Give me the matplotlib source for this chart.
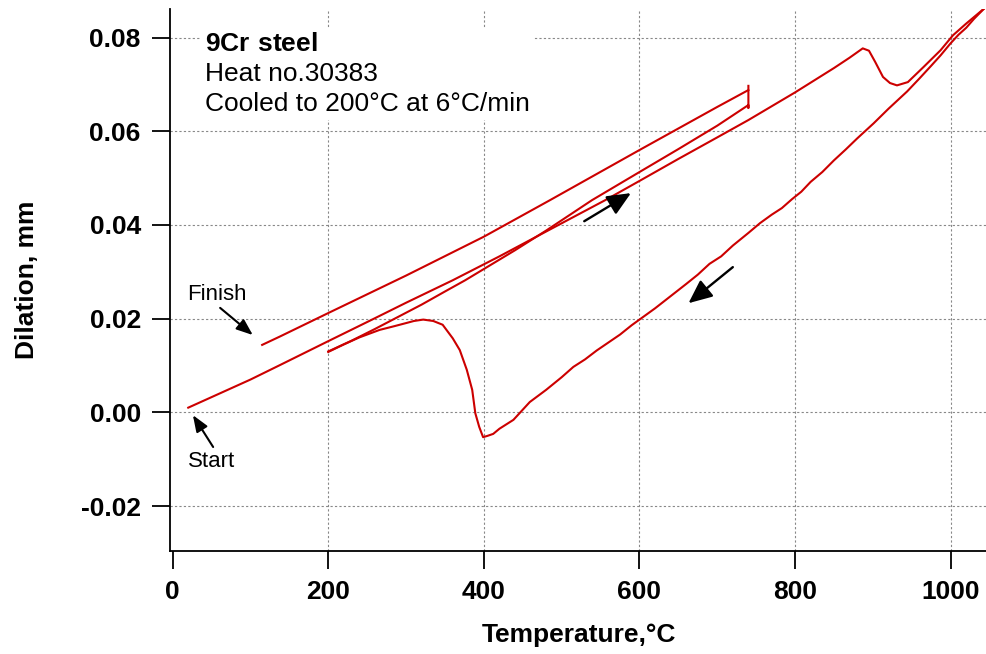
import matplotlib
matplotlib.use('Agg')
import matplotlib.pyplot as plt

plt.rcParams['font.family'] = ['Liberation Sans', 'DejaVu Sans']
plt.rcParams['mathtext.fontset'] = 'custom'
plt.rcParams['mathtext.rm'] = 'Liberation Sans'
plt.rcParams['mathtext.bf'] = 'Liberation Sans:bold'

# first heating: start -> 1045 C (dip at Ac1/Ac3)
heat_T = [20, 60, 100, 138, 200, 260, 300, 360, 420, 480, 556, 600, 650, 700, 740,
          800, 850, 870, 887, 895, 903, 913, 922, 931, 945, 965, 987, 1003, 1020, 1043]
heat_D = [0.0010, 0.0040, 0.0070, 0.0101, 0.0152, 0.0201, 0.0234, 0.0282, 0.0333, 0.0386,
          0.0453, 0.0494, 0.0541, 0.0587, 0.0624, 0.0683, 0.0735, 0.0757, 0.0777, 0.0772,
          0.0748, 0.0716, 0.0703, 0.0698, 0.0705, 0.0737, 0.0773, 0.0805, 0.0830, 0.0862]

# cooling from 1045 C to 200 C at 6 C/min
cool_T = [1043, 1030, 1020, 1010, 1000, 987, 975, 960, 944, 920, 901, 880, 865, 850, 835,
          820, 808, 796, 783, 770, 755, 740, 720, 705, 690, 675, 660, 640, 620, 605,
          590, 575, 560, 545, 530, 515, 500, 480, 459, 438, 420, 412, 405, 399, 394,
          389, 385, 378, 369, 360, 347, 335, 322, 310, 301, 285, 266, 240, 220, 200]
cool_D = [0.0862, 0.0840, 0.0821, 0.0806, 0.0788, 0.0762, 0.0740, 0.0713, 0.0685, 0.0648,
          0.0617, 0.0585, 0.0561, 0.0538, 0.0513, 0.0492, 0.0471, 0.0455, 0.0436, 0.0422,
          0.0404, 0.0383, 0.0356, 0.0333, 0.0317, 0.0294, 0.0274, 0.0248, 0.0222, 0.0204,
          0.0186, 0.0166, 0.0149, 0.0132, 0.0113, 0.0097, 0.0075, 0.0048, 0.0022, -0.0016,
          -0.0035, -0.0046, -0.0050, -0.0053, -0.0031, -0.0002, 0.0048, 0.0091, 0.0133,
          0.0158, 0.0187, 0.0195, 0.0198, 0.0195, 0.0191, 0.0184, 0.0176, 0.0160, 0.0145, 0.0129]

# reheating 200 -> 740 C, hold at 740 C
reheat_T = [200, 230, 260, 290, 320, 350, 376, 410, 440, 480, 539, 600, 650, 700, 740, 740, 740]
reheat_D = [0.0130, 0.0153, 0.0178, 0.0204, 0.0230, 0.0258, 0.0282, 0.0316, 0.0346, 0.0388,
            0.0453, 0.0513, 0.0562, 0.0612, 0.0656, 0.0650, 0.0697]

# final cooling 740 C -> finish
cool2_T = [740, 700, 600, 485, 400, 300, 200, 138, 115]
cool2_D = [0.0688, 0.0652, 0.0560, 0.0453, 0.0375, 0.0292, 0.0212, 0.0162, 0.0144]

red = '#cc0000'

fig = plt.figure(figsize=(9.87, 6.54), dpi=100)
ax = fig.add_axes([0.1722, 0.1575, 0.8278, 0.8287])

for T, D in [(heat_T, heat_D), (cool_T, cool_D), (reheat_T, reheat_D), (cool2_T, cool2_D)]:
    ax.plot(T, D, color=red, lw=1.5, zorder=3)

ax.set_xlim(-3.5, 1046.7)
ax.set_ylim(-0.0296, 0.0861)
ax.set_xticks([0, 200, 400, 600, 800, 1000])
ax.set_yticks([-0.02, 0.00, 0.02, 0.04, 0.06, 0.08])
ax.set_yticklabels(['-0.02', '0.00', '0.02', '0.04', '0.06', '0.08'])

for s in ['top', 'right']:
    ax.spines[s].set_visible(False)
for s in ['left', 'bottom']:
    ax.spines[s].set_linewidth(1.3)

ax.tick_params(direction='out', length=13, width=1.3, pad=8, labelsize=19)
for lab in ax.get_xticklabels() + ax.get_yticklabels():
    lab.set_fontweight('bold')

ax.grid(True, color='#888888', linestyle=(0, (2, 2)), lw=0.8, zorder=0)
ax.get_xgridlines()[0].set_visible(False)

ax.set_xlabel('Temperature,°C', fontsize=19, fontweight='bold')
ax.set_ylabel('Dilation, mm', fontsize=19, fontweight='bold')
ax.xaxis.set_label_coords(0.5, -0.133)
ax.yaxis.set_label_coords(-0.16, 0.5)

# info block
ax.text(0.0428, 0.957, r'$\mathbf{9Cr\ steel}$' + '\nHeat no.30383\nCooled to 200°C at 6°C/min',
        transform=ax.transAxes, fontsize=19, va='top', ha='left', linespacing=1.31, zorder=4,
        bbox=dict(facecolor='white', edgecolor='none', pad=3))

# labels and arrows
ax.text(57, 0.0252, 'Finish', fontsize=16, ha='center', va='center')
ax.text(50.5, -0.0104, 'Start', fontsize=16, ha='center', va='center')

small = dict(arrowstyle='-|>,head_length=0.9,head_width=0.35', color='black', lw=1.5,
             mutation_scale=11, shrinkA=0, shrinkB=0)
big = dict(arrowstyle='-|>,head_length=0.9,head_width=0.4', color='black', lw=1.7,
           mutation_scale=16, shrinkA=0, shrinkB=0)
ax.annotate('', xy=(103, 0.0165), xytext=(61, 0.0223), arrowprops=small)
ax.annotate('', xy=(26, -0.0006), xytext=(52, -0.0074), arrowprops=small)
ax.annotate('', xy=(589, 0.0468), xytext=(529, 0.0408), arrowprops=big)
ax.annotate('', xy=(663, 0.0233), xytext=(720, 0.0310), arrowprops=big)

fig.savefig('out.png', dpi=100)
